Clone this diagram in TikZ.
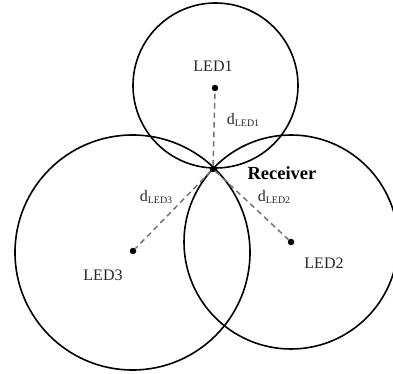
\documentclass[tikz,border=0pt]{standalone}
\usepackage{fontspec}
\setmainfont{Liberation Serif}
\usepackage{tikz}
\usetikzlibrary{positioning}
\newcommand{\dled}[1]{d\raisebox{-0.35ex}{\fontsize{10}{10}\selectfont LED#1}}
\tikzset{
  every picture/.style={x=1pt, y=1pt},
  zona/.style={draw=black, line width=1.6pt},
  foco/.style={circle, fill=black, inner sep=0pt, minimum size=6.5pt},
  etiq/.style={font=\fontsize{16}{16}\selectfont, text=black!85, inner sep=0pt},
  distancia/.style={dashed, dash pattern=on 5.5pt off 4pt, black!55, line width=1.5pt},
}
\begin{document}
\begin{tikzpicture}
  \useasboundingbox (0,0) rectangle (393,374);
  % coverage circles
  \draw[zona] (215.5,288.5) circle[radius=82.5];
  \draw[zona] (291,132) circle[radius=107];
  \draw[zona] (132.5,121.5) circle[radius=117.5];
  % LEDs and receiver
  \node[foco] (led1) at (215,286) {};
  \node[foco] (led2) at (291,132) {};
  \node[foco] (led3) at (133,123) {};
  \node[foco] (rx) at (213,205) {};
  \draw[distancia] (rx) -- (led1); \draw[distancia] (rx) -- (led2); \draw[distancia] (rx) -- (led3);
  \node[etiq] (t1) at (213,308) {LED1};
  \node[etiq] (t2) at (324,111) {LED2};
  \node[etiq] (t3) at (103,99) {LED3};
  \node[etiq] (d1) at (243,254) {\dled{1}};
  \node[etiq] (d2) at (274,177) {\dled{2}};
  \node[etiq] (d3) at (156,177) {\dled{3}};
  \node[etiq, font=\fontsize{18.5}{18.5}\selectfont\bfseries, text=black] (rt) at (282,201) {Receiver};
\end{tikzpicture}
\end{document}
